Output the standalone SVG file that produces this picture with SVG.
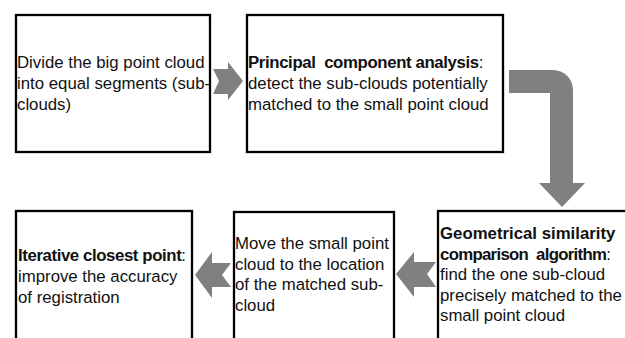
<svg xmlns="http://www.w3.org/2000/svg" width="625" height="338" viewBox="0 0 625 338">
<style>
.box{fill:#fff;stroke:#000;stroke-width:2.3}
.arr{fill:#808080}
text{font-family:"Liberation Sans",Arial,sans-serif;font-size:16.8px;fill:#111;white-space:pre}
.b{font-weight:bold}
</style>
<rect width="625" height="338" fill="#fff"/>
<g id="connectors">
<polygon class="arr" points="213,69 228,69 228,62 243,81 228,100 228,94 213,94 219,81"/>
<path class="arr" d="M509,70 H553 A20,20 0 0 1 573,90 V183 H585 L562,207 L539,183 H550 V93 H509 Z"/>
<polygon class="arr" points="396,274 414,252 414,262 436,262 427,274 436,287 414,287 414,297"/>
<polygon class="arr" points="195,275 212,252 212,263 231,263 222,275 231,287 212,287 212,298"/>
</g>
<g id="node1">
<rect class="box" x="16" y="15" width="194" height="137"/>
<text x="17" y="68">Divide the big point cloud</text>
<text x="17" y="89">into equal segments (sub-</text>
<text x="17" y="110">clouds)</text>
</g>
<g id="node2">
<rect class="box" x="247" y="15" width="256" height="137"/>
<text x="248" y="68" xml:space="preserve"><tspan class="b" letter-spacing="-0.37">Principal  component analysis</tspan>:</text>
<text x="248" y="89">detect the sub-clouds potentially</text>
<text x="248" y="110">matched to the small point cloud</text>
</g>
<g id="node3">
<rect class="box" x="438" y="211" width="200" height="140"/>
<text x="440" y="239" class="b">Geometrical similarity</text>
<text x="440" y="260" xml:space="preserve"><tspan class="b" letter-spacing="-0.7">comparison  algorithm</tspan>:</text>
<text x="440" y="280">find the one sub-cloud</text>
<text x="440" y="301">precisely matched to the</text>
<text x="440" y="321">small point cloud</text>
</g>
<g id="node4">
<rect class="box" x="234" y="212" width="160" height="140"/>
<text x="235" y="249">Move the small point</text>
<text x="235" y="270">cloud to the location</text>
<text x="235" y="290">of the matched sub-</text>
<text x="235" y="311">cloud</text>
</g>
<g id="node5">
<rect class="box" x="16" y="211" width="176" height="140"/>
<text x="18" y="261"><tspan class="b" letter-spacing="-0.4">Iterative closest point</tspan>:</text>
<text x="18" y="282">improve the accuracy</text>
<text x="18" y="303">of registration</text>
</g>
</svg>
